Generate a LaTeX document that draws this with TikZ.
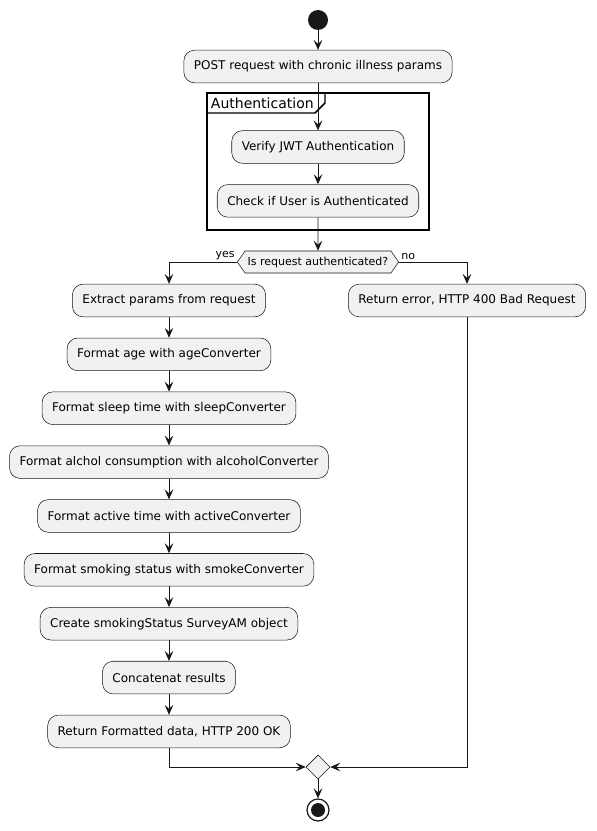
\documentclass[tikz,border=0pt]{standalone}
\usepackage{fontspec}
\setmainfont{DejaVu Sans}
\usetikzlibrary{shapes.geometric, shapes.symbols, arrows.meta, positioning}
\definecolor{boxfill}{HTML}{F1F1F1}
\definecolor{ink}{HTML}{181818}
\tikzstyle{activity} = [rectangle, draw=ink, line width=0.4pt, fill=boxfill, rounded corners=8pt, minimum height=24.5pt, inner xsep=7.5pt, font=\fontsize{9}{11}\selectfont]
\tikzstyle{arrow} = [draw=ink, line width=0.7pt, -{Stealth[length=7.5pt,width=6.5pt,inset=3pt]}]
\tikzstyle{decision} = [signal, signal to=west and east, signal pointer angle=110, draw=ink, line width=0.4pt, fill=boxfill, minimum height=16.5pt, inner xsep=2pt, font=\fontsize{8.25}{10}\selectfont]
\tikzstyle{merge} = [diamond, draw=ink, line width=0.4pt, fill=boxfill, minimum size=18pt, inner sep=0pt]

\begin{document}
\begin{tikzpicture}[x=0.75pt, y=-0.75pt, node distance=15.5pt]
            \useasboundingbox (0,0) rectangle (596,831);
            % Nodes
            \node[circle, fill=ink, minimum size=15pt, inner sep=0pt] (start) at (318,20) {};
            \node[activity] (post) at (318,66.5) {POST request with chronic illness params};
            \node[activity] (verify) at (318,147) {Verify JWT Authentication};
            \node[activity, below=of verify] (check) {Check if User is Authenticated};
            \node[decision] (auth) at (318,262) {Is request authenticated?};
            \node[activity] (extract) at (169,300.5) {Extract params from request};
            \node[activity, below=of extract] (age) {Format age with ageConverter};
            \node[activity, below=of age] (sleep) {Format sleep time with sleepConverter};
            \node[activity, below=of sleep] (alcohol) {Format alchol consumption with alcoholConverter};
            \node[activity, below=of alcohol] (active) {Format active time with activeConverter};
            \node[activity, below=of active] (smoke) {Format smoking status with smokeConverter};
            \node[activity, below=of smoke] (survey) {Create smokingStatus SurveyAM object};
            \node[activity, below=of survey] (concat) {Concatenat results};
            \node[activity, below=of concat] (ok) {Return Formatted data, HTTP 200 OK};
            \node[activity] (error) at (467,300.5) {Return error, HTTP 400 Bad Request};
            \node[merge] (join) at (318,767) {};
            \node[circle, draw=ink, line width=0.9pt, minimum size=16.5pt, inner sep=0pt] (stop) at (318,810) {};
            \node[circle, fill=ink, minimum size=10.5pt, inner sep=0pt] (stopdot) at (stop) {};

            % Group
            \draw[black, line width=1.1pt] (207,93) rectangle (429,230);
            \draw[black, line width=1.1pt] (207,113) -- (315,113) -- (325,103) -- (325,93);
            \node[anchor=north west, inner sep=2pt, font=\fontsize{10.5}{12}\selectfont] (authlabel) at (208,95) {Authentication};

            % Edges
            \draw[arrow] (start) -- (post);
            \draw[arrow] (post) -- (verify);
            \draw[arrow] (verify) -- (check);
            \draw[arrow] (check) -- (auth);
            \draw[arrow] (auth.west) -| node[pos=0, above left, inner sep=1.5pt, font=\fontsize{8.25}{10}\selectfont]{yes} (extract);
            \draw[arrow] (auth.east) -| node[pos=0, above right, inner sep=1.5pt, font=\fontsize{8.25}{10}\selectfont]{no} (error);
            \draw[arrow] (extract) -- (age);
            \draw[arrow] (age) -- (sleep);
            \draw[arrow] (sleep) -- (alcohol);
            \draw[arrow] (alcohol) -- (active);
            \draw[arrow] (active) -- (smoke);
            \draw[arrow] (smoke) -- (survey);
            \draw[arrow] (survey) -- (concat);
            \draw[arrow] (concat) -- (ok);
            \draw[arrow] (ok.south) |- (join.west);
            \draw[arrow] (error.south) |- (join.east);
            \draw[arrow] (join) -- (stop);
        \end{tikzpicture}
\end{document}
